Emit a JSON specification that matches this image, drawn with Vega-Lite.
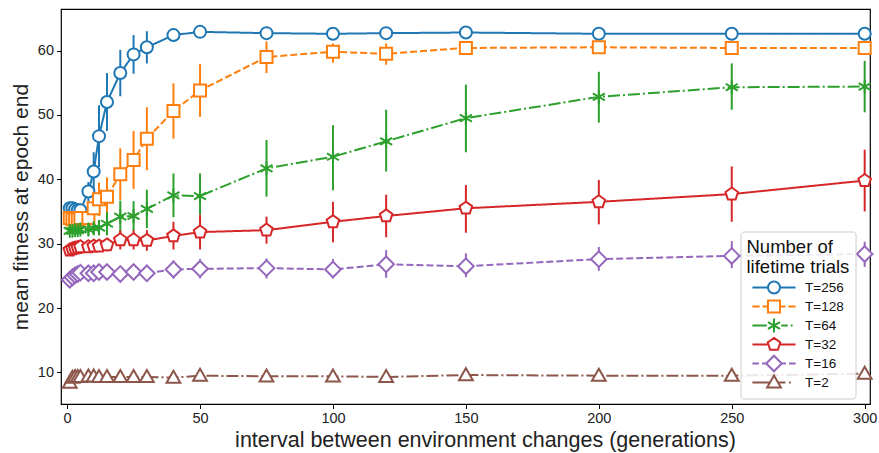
{
  "$schema": "https://vega.github.io/schema/vega-lite/v6.json",
  "width": 809,
  "height": 395,
  "autosize": {"type": "none"},
  "padding": {"left": 61, "top": 9, "right": 9, "bottom": 49},
  "background": "white",
  "config": {
    "font": "Liberation Sans",
    "view": {"stroke": "#000", "strokeWidth": 1.2},
    "axis": {
      "grid": false, "domain": false, "tickColor": "#000", "tickSize": 4.5, "tickWidth": 1,
      "labelFontSize": 14.5, "labelColor": "#222", "labelPadding": 3,
      "titleFontSize": 21.5, "titleFontWeight": "normal", "titleColor": "#222"
    },
    "legend": {
      "orient": "none", "legendX": 679.5, "legendY": 222.5,
      "fillColor": "rgba(255,255,255,0.85)", "strokeColor": "#cccccc", "cornerRadius": 3, "padding": 6,
      "titleFontSize": 18.5, "titleFontWeight": "normal", "titleColor": "#111", "titleLineHeight": 20.5, "titlePadding": 4,
      "labelFontSize": 13.5, "labelColor": "#111", "labelOffset": 24,
      "symbolOffset": 20.5, "symbolSize": 144, "symbolStrokeWidth": 2, "symbolOpacity": 1,
      "gridAlign": "all", "rowPadding": -5
    }
  },
  "data": {"values": [
    {"T":"T=256","x":1,"y":35.5,"lo":35.0,"hi":36.0},
    {"T":"T=256","x":2,"y":35.5,"lo":35.0,"hi":36.0},
    {"T":"T=256","x":3,"y":35.3,"lo":34.8,"hi":35.8},
    {"T":"T=256","x":4,"y":35.2,"lo":34.7,"hi":35.7},
    {"T":"T=256","x":5,"y":35.2,"lo":34.6,"hi":35.8},
    {"T":"T=256","x":8,"y":38.1,"lo":36.6,"hi":39.6},
    {"T":"T=256","x":10,"y":41.2,"lo":38.2,"hi":44.2},
    {"T":"T=256","x":12,"y":46.7,"lo":41.9,"hi":51.5},
    {"T":"T=256","x":15,"y":52.0,"lo":47.5,"hi":56.5},
    {"T":"T=256","x":20,"y":56.5,"lo":52.9,"hi":60.1},
    {"T":"T=256","x":25,"y":59.4,"lo":56.4,"hi":62.4},
    {"T":"T=256","x":30,"y":60.5,"lo":58.0,"hi":63.0},
    {"T":"T=256","x":40,"y":62.4,"lo":61.4,"hi":63.4},
    {"T":"T=256","x":50,"y":62.9,"lo":62.4,"hi":63.4},
    {"T":"T=256","x":75,"y":62.7,"lo":62.4,"hi":63.0},
    {"T":"T=256","x":100,"y":62.6,"lo":62.3,"hi":62.9},
    {"T":"T=256","x":120,"y":62.7,"lo":62.4,"hi":63.0},
    {"T":"T=256","x":150,"y":62.8,"lo":62.5,"hi":63.1},
    {"T":"T=256","x":200,"y":62.6,"lo":62.3,"hi":62.9},
    {"T":"T=256","x":250,"y":62.6,"lo":62.3,"hi":62.9},
    {"T":"T=256","x":300,"y":62.6,"lo":62.3,"hi":62.9},
    {"T":"T=128","x":1,"y":34.0,"lo":33.5,"hi":34.5},
    {"T":"T=128","x":2,"y":33.8,"lo":33.3,"hi":34.3},
    {"T":"T=128","x":3,"y":33.8,"lo":33.3,"hi":34.3},
    {"T":"T=128","x":4,"y":33.8,"lo":33.2,"hi":34.4},
    {"T":"T=128","x":5,"y":34.0,"lo":33.2,"hi":34.8},
    {"T":"T=128","x":8,"y":34.0,"lo":32.5,"hi":35.5},
    {"T":"T=128","x":10,"y":35.5,"lo":33.0,"hi":38.0},
    {"T":"T=128","x":12,"y":36.9,"lo":34.3,"hi":39.5},
    {"T":"T=128","x":15,"y":37.3,"lo":34.3,"hi":40.3},
    {"T":"T=128","x":20,"y":40.8,"lo":36.8,"hi":44.8},
    {"T":"T=128","x":25,"y":43.0,"lo":38.5,"hi":47.5},
    {"T":"T=128","x":30,"y":46.3,"lo":41.4,"hi":51.2},
    {"T":"T=128","x":40,"y":50.6,"lo":46.3,"hi":54.9},
    {"T":"T=128","x":50,"y":53.8,"lo":49.7,"hi":57.9},
    {"T":"T=128","x":75,"y":59.0,"lo":56.5,"hi":61.4},
    {"T":"T=128","x":100,"y":59.8,"lo":58.1,"hi":61.1},
    {"T":"T=128","x":120,"y":59.5,"lo":57.8,"hi":61.1},
    {"T":"T=128","x":150,"y":60.4,"lo":60.0,"hi":60.8},
    {"T":"T=128","x":200,"y":60.5,"lo":60.1,"hi":60.9},
    {"T":"T=128","x":250,"y":60.4,"lo":60.0,"hi":60.8},
    {"T":"T=128","x":300,"y":60.4,"lo":60.0,"hi":60.8},
    {"T":"T=64","x":1,"y":32.0,"lo":31.5,"hi":32.5},
    {"T":"T=64","x":2,"y":32.0,"lo":31.5,"hi":32.5},
    {"T":"T=64","x":3,"y":32.1,"lo":31.6,"hi":32.6},
    {"T":"T=64","x":4,"y":32.1,"lo":31.5,"hi":32.7},
    {"T":"T=64","x":5,"y":32.2,"lo":31.5,"hi":32.9},
    {"T":"T=64","x":8,"y":32.2,"lo":31.3,"hi":33.1},
    {"T":"T=64","x":10,"y":32.4,"lo":31.4,"hi":33.4},
    {"T":"T=64","x":12,"y":32.5,"lo":31.3,"hi":33.7},
    {"T":"T=64","x":15,"y":33.1,"lo":31.3,"hi":34.9},
    {"T":"T=64","x":20,"y":34.2,"lo":31.7,"hi":36.7},
    {"T":"T=64","x":25,"y":34.3,"lo":32.0,"hi":36.6},
    {"T":"T=64","x":30,"y":35.4,"lo":32.4,"hi":38.4},
    {"T":"T=64","x":40,"y":37.5,"lo":34.1,"hi":40.9},
    {"T":"T=64","x":50,"y":37.4,"lo":34.5,"hi":40.9},
    {"T":"T=64","x":75,"y":41.7,"lo":37.3,"hi":46.1},
    {"T":"T=64","x":100,"y":43.5,"lo":38.3,"hi":48.4},
    {"T":"T=64","x":120,"y":45.9,"lo":41.2,"hi":50.8},
    {"T":"T=64","x":150,"y":49.5,"lo":44.2,"hi":54.7},
    {"T":"T=64","x":200,"y":52.8,"lo":48.8,"hi":56.7},
    {"T":"T=64","x":250,"y":54.3,"lo":50.8,"hi":58.0},
    {"T":"T=64","x":300,"y":54.4,"lo":50.4,"hi":58.4},
    {"T":"T=32","x":1,"y":29.0,"lo":28.7,"hi":29.3},
    {"T":"T=32","x":2,"y":29.2,"lo":28.9,"hi":29.5},
    {"T":"T=32","x":3,"y":29.3,"lo":28.9,"hi":29.7},
    {"T":"T=32","x":4,"y":29.4,"lo":29.0,"hi":29.8},
    {"T":"T=32","x":5,"y":29.5,"lo":29.0,"hi":30.0},
    {"T":"T=32","x":8,"y":29.5,"lo":28.9,"hi":30.1},
    {"T":"T=32","x":10,"y":29.6,"lo":28.9,"hi":30.3},
    {"T":"T=32","x":12,"y":29.6,"lo":28.8,"hi":30.4},
    {"T":"T=32","x":15,"y":29.8,"lo":28.8,"hi":30.8},
    {"T":"T=32","x":20,"y":30.6,"lo":29.1,"hi":32.1},
    {"T":"T=32","x":25,"y":30.6,"lo":29.1,"hi":32.1},
    {"T":"T=32","x":30,"y":30.5,"lo":28.9,"hi":32.1},
    {"T":"T=32","x":40,"y":31.2,"lo":29.1,"hi":33.4},
    {"T":"T=32","x":50,"y":31.8,"lo":29.1,"hi":34.5},
    {"T":"T=32","x":75,"y":32.1,"lo":30.0,"hi":34.2},
    {"T":"T=32","x":100,"y":33.4,"lo":30.2,"hi":36.5},
    {"T":"T=32","x":120,"y":34.3,"lo":31.0,"hi":37.6},
    {"T":"T=32","x":150,"y":35.5,"lo":31.7,"hi":39.1},
    {"T":"T=32","x":200,"y":36.5,"lo":33.0,"hi":39.9},
    {"T":"T=32","x":250,"y":37.7,"lo":33.4,"hi":42.0},
    {"T":"T=32","x":300,"y":39.8,"lo":35.0,"hi":44.6},
    {"T":"T=16","x":1,"y":24.4,"lo":24.1,"hi":24.7},
    {"T":"T=16","x":2,"y":24.8,"lo":24.4,"hi":25.2},
    {"T":"T=16","x":3,"y":25.1,"lo":24.7,"hi":25.5},
    {"T":"T=16","x":4,"y":25.3,"lo":24.8,"hi":25.8},
    {"T":"T=16","x":5,"y":25.5,"lo":25.0,"hi":26.0},
    {"T":"T=16","x":8,"y":25.4,"lo":24.8,"hi":26.0},
    {"T":"T=16","x":10,"y":25.4,"lo":24.7,"hi":26.1},
    {"T":"T=16","x":12,"y":25.6,"lo":24.9,"hi":26.3},
    {"T":"T=16","x":15,"y":25.6,"lo":24.8,"hi":26.4},
    {"T":"T=16","x":20,"y":25.3,"lo":24.4,"hi":26.2},
    {"T":"T=16","x":25,"y":25.6,"lo":24.6,"hi":26.6},
    {"T":"T=16","x":30,"y":25.4,"lo":24.4,"hi":26.4},
    {"T":"T=16","x":40,"y":26.0,"lo":24.6,"hi":27.4},
    {"T":"T=16","x":50,"y":26.1,"lo":24.6,"hi":27.6},
    {"T":"T=16","x":75,"y":26.2,"lo":24.6,"hi":27.7},
    {"T":"T=16","x":100,"y":26.0,"lo":24.6,"hi":27.6},
    {"T":"T=16","x":120,"y":26.8,"lo":24.7,"hi":29.0},
    {"T":"T=16","x":150,"y":26.5,"lo":24.8,"hi":28.5},
    {"T":"T=16","x":200,"y":27.6,"lo":25.8,"hi":29.5},
    {"T":"T=16","x":250,"y":28.1,"lo":26.2,"hi":30.4},
    {"T":"T=16","x":300,"y":28.4,"lo":26.4,"hi":30.3},
    {"T":"T=2","x":1,"y":8.4,"lo":8.1,"hi":8.7},
    {"T":"T=2","x":2,"y":9.2,"lo":8.9,"hi":9.5},
    {"T":"T=2","x":3,"y":9.3,"lo":9.0,"hi":9.6},
    {"T":"T=2","x":4,"y":9.3,"lo":9.0,"hi":9.6},
    {"T":"T=2","x":5,"y":9.3,"lo":9.0,"hi":9.6},
    {"T":"T=2","x":8,"y":9.4,"lo":9.1,"hi":9.7},
    {"T":"T=2","x":10,"y":9.4,"lo":9.1,"hi":9.7},
    {"T":"T=2","x":12,"y":9.3,"lo":9.0,"hi":9.6},
    {"T":"T=2","x":15,"y":9.3,"lo":9.0,"hi":9.6},
    {"T":"T=2","x":20,"y":9.3,"lo":9.0,"hi":9.6},
    {"T":"T=2","x":25,"y":9.3,"lo":9.0,"hi":9.6},
    {"T":"T=2","x":30,"y":9.3,"lo":9.0,"hi":9.6},
    {"T":"T=2","x":40,"y":9.2,"lo":8.9,"hi":9.5},
    {"T":"T=2","x":50,"y":9.5,"lo":9.2,"hi":9.8},
    {"T":"T=2","x":75,"y":9.4,"lo":9.1,"hi":9.7},
    {"T":"T=2","x":100,"y":9.4,"lo":9.1,"hi":9.7},
    {"T":"T=2","x":120,"y":9.3,"lo":9.0,"hi":9.6},
    {"T":"T=2","x":150,"y":9.6,"lo":9.3,"hi":9.9},
    {"T":"T=2","x":200,"y":9.5,"lo":9.2,"hi":9.8},
    {"T":"T=2","x":250,"y":9.5,"lo":9.2,"hi":9.8},
    {"T":"T=2","x":300,"y":9.8,"lo":9.5,"hi":10.1}
  ]},
  "layer": [
    {
      "mark": {"type": "rule", "strokeWidth": 2},
      "encoding": {
        "x": {"field": "x", "type": "quantitative", "scale": {"domain": [-2.3, 302], "nice": false, "zero": false},
              "axis": {"values": [0, 50, 100, 150, 200, 250, 300], "title": "interval between environment changes (generations)", "titlePadding": 4, "titleX": 424}},
        "y": {"field": "lo", "type": "quantitative", "scale": {"domain": [5.1, 66.45], "nice": false, "zero": false},
              "axis": {"values": [10, 20, 30, 40, 50, 60], "title": "mean fitness at epoch end", "titlePadding": 6, "titleFontSize": 21}},
        "y2": {"field": "hi"},
        "color": {"field": "T", "type": "nominal", "title": ["Number of", "lifetime trials"],
                  "scale": {"domain": ["T=256", "T=128", "T=64", "T=32", "T=16", "T=2"],
                            "range": ["#1f77b4", "#ff7f0e", "#2ca02c", "#d62728", "#9467bd", "#8c564b"]},
                  "legend": {
                    "title": ["Number of", "lifetime trials"],
                    "encode": {"symbols": {"update": {
                      "fill": {"value": "white"},
                      "strokeWidth": {"value": 2},
                      "opacity": {"value": 1},
                      "shape": {"signal": "datum.value === 'T=256' ? 'M-3.6,0H-1M1,0H3.6M1,0A1,1,0,1,1,-1,0A1,1,0,1,1,1,0Z' : datum.value === 'T=128' ? 'M-3.6,0H-2.4M-1.9,0H-1M1,0H1.9M2.4,0H3.6M-1,-1H1V1H-1Z' : datum.value === 'T=64' ? 'M-3.6,0H-1.2M1.2,0H2.3M2.8,0H3.1M0,-1.15V1.15M-1,-0.58L1,0.58M-1,0.58L1,-0.58' : datum.value === 'T=32' ? 'M-3.6,0H-0.95M0.95,0H3.6M0,-1.1L1.046,-0.34L0.647,0.89L-0.647,0.89L-1.046,-0.34Z' : datum.value === 'T=16' ? 'M-3.6,0H-2.5M-2,0H-1.3M1.3,0H2M2.5,0H3.6M0,-1.3L1.3,0L0,1.3L-1.3,0Z' : 'M-3.6,0H-0.66M0.66,0H1.9M2.5,0H2.8M0,-1.15L1.15,0.85L-1.15,0.85Z'"}
                    }}}
                  }}
      }
    },
    {
      "mark": {"type": "line", "strokeWidth": 2},
      "encoding": {
        "x": {"field": "x", "type": "quantitative"},
        "y": {"field": "y", "type": "quantitative"},
        "color": {"field": "T", "type": "nominal", "title": ["Number of", "lifetime trials"]},
        "strokeDash": {"field": "T", "type": "nominal", "legend": null,
                       "scale": {"domain": ["T=2", "T=128", "T=64", "T=32", "T=16", "T=256"],
                                 "range": [[12, 3, 2, 3], [7, 3], [12, 3, 2, 3], [1, 0], [7, 3], [1, 0]]}}
      }
    },
    {
      "mark": {"type": "point", "filled": false, "fill": "white", "fillOpacity": 1, "opacity": 1, "size": 144, "strokeWidth": 2},
      "encoding": {
        "x": {"field": "x", "type": "quantitative"},
        "y": {"field": "y", "type": "quantitative"},
        "color": {"field": "T", "type": "nominal", "title": ["Number of", "lifetime trials"]},
        "shape": {"field": "T", "type": "nominal", "legend": null,
                  "scale": {"domain": ["T=2", "T=16", "T=32", "T=64", "T=128", "T=256"],
                            "range": ["M0,-1.15L1.15,0.85L-1.15,0.85Z", "M0,-1.3L1.3,0L0,1.3L-1.3,0Z",
                                      "M0,-1.1L1.046,-0.34L0.647,0.89L-0.647,0.89L-1.046,-0.34Z",
                                      "M0,-1.15V1.15M-1,-0.58L1,0.58M-1,0.58L1,-0.58",
                                      "M-1,-1H1V1H-1Z", "circle"]}}
      }
    }
  ]
}
